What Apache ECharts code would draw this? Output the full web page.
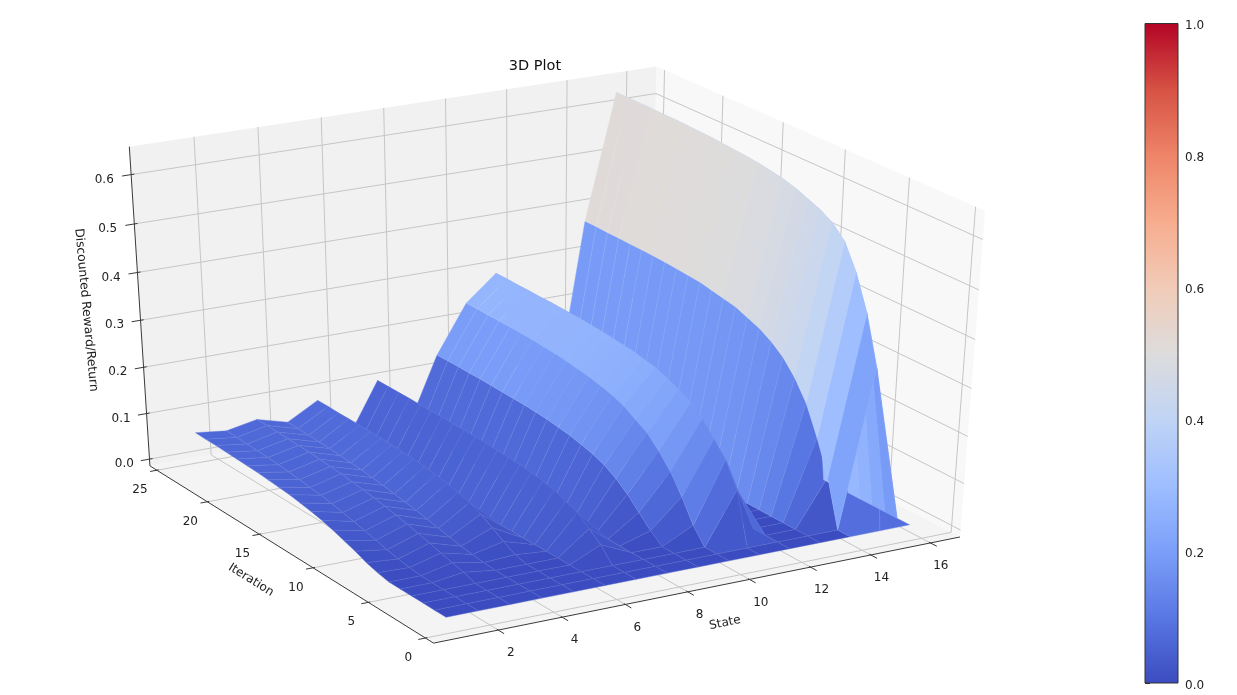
<!DOCTYPE html>
<html><head><meta charset="utf-8">
<style>html,body{margin:0;padding:0;background:#fff}#c{width:1237px;height:695px}</style>
<script src="https://cdn.jsdelivr.net/npm/echarts@6/dist/echarts.min.js"></script>
</head><body><div id="c"></div>
<script>
const states = [1,2,3,4,5,6,7,8,9,10,11,12,13,14,15,16];
const iterations = [1,2,3,4,5,6,7,8,9,10,11,12,13,14,15,16,17,18,19,20,21,22,23,24];
const state01 = [0,0,0,0,0,0,.005,.012,.022,.03,.038,.045,.05,.054,.058,.06,.062,.064,.065,.066,.067,.068,.068,.069];
const state02 = [0,0,0,0,0,0,.003,.007,.012,.018,.024,.03,.035,.04,.044,.047,.05,.053,.055,.057,.058,.059,.06,.061];
const state03 = [0,0,0,0,.009,.015,.021,.028,.034,.04,.045,.05,.054,.058,.061,.064,.066,.068,.07,.071,.072,.073,.074,.074];
const state04 = [0,0,0,0,0,.002,.005,.008,.013,.018,.023,.028,.032,.036,.04,.043,.046,.048,.05,.052,.053,.054,.055,.056];
const state05 = [0,0,0,0,0,.006,.02,.035,.05,.06,.068,.074,.079,.082,.085,.087,.088,.089,.09,.09,.091,.091,.092,.092];
const state06 = [0,0,0,0,0,0,0,0,0,0,0,0,0,0,0,0,0,0,0,0,0,0,0,0];
const state07 = [0,0,0,.03,.05,.07,.08,.09,.095,.1,.103,.105,.107,.108,.109,.11,.11,.111,.111,.111,.112,.112,.112,.112];
const state08 = [0,0,0,0,0,0,0,0,0,0,0,0,0,0,0,0,0,0,0,0,0,0,0,0];
const state09 = [0,0,0,0,.02,.045,.07,.09,.105,.115,.122,.128,.132,.136,.138,.14,.141,.142,.143,.144,.144,.145,.145,.145];
const state10 = [0,0,0,.033,.08,.12,.15,.175,.19,.205,.215,.222,.228,.232,.236,.239,.241,.243,.244,.245,.246,.246,.247,.247];
const state11 = [0,0,.11,.16,.19,.22,.24,.255,.265,.275,.28,.285,.288,.291,.293,.295,.296,.297,.298,.298,.299,.299,.3,.3];
const state12 = [0,0,0,0,0,0,0,0,0,0,0,0,0,0,0,0,0,0,0,0,0,0,0,0];
const state13 = [0,0,0,0,0,0,0,0,0,0,0,0,0,0,0,0,0,0,0,0,0,0,0,0];
const state14 = [0,0,.1,.17,.23,.27,.3,.32,.335,.345,.355,.36,.365,.37,.372,.374,.376,.377,.378,.378,.379,.379,.38,.38];
const state15 = [0,.33,.43,.5,.55,.575,.59,.6,.61,.617,.622,.626,.629,.631,.633,.635,.636,.637,.638,.638,.639,.639,.639,.639];
const state16 = [0,0,0,0,0,0,0,0,0,0,0,0,0,0,0,0,0,0,0,0,0,0,0,0];
const surface = [state01,state02,state03,state04,state05,state06,state07,state08,state09,state10,state11,state12,state13,state14,state15,state16];

const stateTicks = [2,4,6,8,10,12,14,16];
const iterationTicks = [0,5,10,15,20,25];
const rewardTicks = [0,0.1,0.2,0.3,0.4,0.5,0.6];
const coolwarm = ['#3b4cc0','#5977e3','#7b9ff9','#9ebeff','#c0d4f5','#dddcdc','#f2cbb7','#f7ac8e','#ee8468','#d65244','#b40426'];

const B = {x0:0, x1:17, y0:-0.7, y1:25.7, z0:-0.015, z1:0.656};
// Camera calibration: where known points of the box sit on the page.
const cameraAnchors = [
 [B.x0,B.y1,B.z1,128,147],[B.x1,B.y1,B.z1,657,67],[B.x1,B.y0,B.z1,985,210],
 [B.x0,B.y1,B.z0,150,466],[B.x0,B.y0,B.z0,433,643],[B.x1,B.y0,B.z0,963,537],
 [2,B.y1,B.z1,196,137],[16,B.y1,B.z1,625,71],[B.x1,0,B.z1,976,208],[B.x1,25,B.z1,665,70],
 [B.x0,B.y1,0.6,131,173],[B.x0,B.y1,0,149,459],
 [2,B.y0,B.z0,497,629],[8,B.y0,B.z0,687,592],[16,B.y0,B.z0,928,542],
 [B.x0,5,B.z0,370,604],[B.x0,15,B.z0,260,535],[B.x0,25,B.z0,157,470]
];
function calibrate(pts){
  const S=[17,25,0.6,1000,1000], n=11, A=[...Array(n)].map(()=>Array(n+1).fill(0));
  const add=(r,b)=>{for(let i=0;i<n;i++){for(let j=0;j<n;j++)A[i][j]+=r[i]*r[j];A[i][n]+=r[i]*b;}};
  pts.forEach(p=>{const X=p[0]/S[0],Y=p[1]/S[1],Z=p[2]/S[2],u=p[3]/S[3],v=p[4]/S[4];
    add([X,Y,Z,1,0,0,0,0,-u*X,-u*Y,-u*Z],u);
    add([0,0,0,0,X,Y,Z,1,-v*X,-v*Y,-v*Z],v);});
  for(let c=0;c<n;c++){let m=c;for(let r=c+1;r<n;r++)if(Math.abs(A[r][c])>Math.abs(A[m][c]))m=r;
    [A[c],A[m]]=[A[m],A[c]];
    for(let r=0;r<n;r++)if(r!==c){const f=A[r][c]/A[c][c];for(let k=c;k<=n;k++)A[r][k]-=f*A[c][k];}}
  const h=A.map((row,i)=>row[n]/row[i]);
  return (x,y,z)=>{const X=x/S[0],Y=y/S[1],Z=z/S[2],w=h[8]*X+h[9]*Y+h[10]*Z+1;
    return {u:S[3]*(h[0]*X+h[1]*Y+h[2]*Z+h[3])/w, v:S[4]*(h[4]*X+h[5]*Y+h[6]*Z+h[7])/w, w};};
}
const project = calibrate(cameraAnchors);
const pt=(x,y,z)=>{const p=project(x,y,z);return [p.u,p.v];};

function hex(c){return [1,3,5].map(i=>parseInt(c.substr(i,2),16));}
function rgbAt(t){t=Math.max(0,Math.min(1,t))*(coolwarm.length-1);const i=Math.min(Math.floor(t),coolwarm.length-2),f=t-i;
  const a=hex(coolwarm[i]),b=hex(coolwarm[i+1]);return a.map((v,k)=>v+(b[k]-v)*f);}
const css=c=>'rgb('+c.map(Math.round).join(',')+')';

// facets, far to near
const facets=[];
for(let i=0;i<states.length-1;i++)for(let j=0;j<iterations.length-1;j++){
  const xs=[states[i],states[i+1],states[i+1],states[i]], ys=[iterations[j],iterations[j],iterations[j+1],iterations[j+1]];
  const zs=[surface[i][j],surface[i+1][j],surface[i+1][j+1],surface[i][j+1]];
  const avg=zs.reduce((a,b)=>a+b,0)/4;
  const depth=[0,1,2,3].reduce((a,k)=>a+project(xs[k],ys[k],zs[k]).w,0);
  facets.push({value:[i,j,avg],depth});
}
facets.sort((a,b)=>b.depth-a.depth);

const lines=[]; // [[x,y,z],[x,y,z],color,width]
const GRID='#c6c6c6', AX='#3a3a3a';
stateTicks.forEach(s=>{lines.push([[s,B.y1,B.z1],[s,B.y1,B.z0],GRID,1],[[s,B.y1,B.z0],[s,B.y0,B.z0],GRID,1]);});
iterationTicks.forEach(t=>{lines.push([[B.x1,t,B.z1],[B.x1,t,B.z0],GRID,1],[[B.x1,t,B.z0],[B.x0,t,B.z0],GRID,1]);});
rewardTicks.forEach(r=>{lines.push([[B.x0,B.y1,r],[B.x1,B.y1,r],GRID,1],[[B.x1,B.y1,r],[B.x1,B.y0,r],GRID,1]);});
lines.push([[B.x0,B.y0,B.z0],[B.x1,B.y0,B.z0],AX,1],[[B.x0,B.y0,B.z0],[B.x0,B.y1,B.z0],AX,1],[[B.x0,B.y1,B.z0],[B.x0,B.y1,B.z1],AX,1]);
stateTicks.forEach(s=>lines.push([[s,B.y0+0.12,B.z0],[s,B.y0-0.5,B.z0],AX,1]));
iterationTicks.forEach(t=>lines.push([[B.x0+0.06,t,B.z0],[B.x0-0.22,t,B.z0],AX,1]));
rewardTicks.forEach(r=>lines.push([[B.x0+0.1,B.y1,r],[B.x0-0.28,B.y1,r],AX,1]));

const panes=[
 [[[B.x0,B.y1,B.z0],[B.x1,B.y1,B.z0],[B.x1,B.y1,B.z1],[B.x0,B.y1,B.z1]],'#f1f1f1'],
 [[[B.x1,B.y0,B.z0],[B.x1,B.y1,B.z0],[B.x1,B.y1,B.z1],[B.x1,B.y0,B.z1]],'#f8f8f8'],
 [[[B.x0,B.y0,B.z0],[B.x1,B.y0,B.z0],[B.x1,B.y1,B.z0],[B.x0,B.y1,B.z0]],'#f4f4f4']
];

const FONT='"DejaVu Sans"';
const labels=[];
stateTicks.forEach(s=>{const p=pt(s,B.y0,B.z0);labels.push([String(s),p[0]+13-s/6,p[1]+23,0,12]);});
iterationTicks.forEach(t=>{const p=pt(B.x0,t,B.z0);labels.push([String(t),p[0]-17,p[1]+20,0,12]);});
rewardTicks.forEach(r=>{const p=pt(B.x0,B.y1,r);labels.push([r.toFixed(1),p[0]-26+(0.3-r)*3,p[1]+5,0,12]);});
labels.push(['State',725,623,0.2,12],['Iteration',251,580,-0.56,12],['Discounted Reward/Return',86,310,-1.478,12.3]);

const barStops=coolwarm.map((c,i)=>({offset:i/(coolwarm.length-1),color:c}));

const chart=echarts.init(document.getElementById('c'),null,{renderer:'canvas'});
chart.setOption({
 animation:false,
 backgroundColor:'#fff',
 title:{text:'3D Plot',left:530,top:54,textAlign:'center',textStyle:{fontFamily:FONT,fontSize:14.5,fontWeight:'normal',color:'#111'}},
 grid:[{left:0,top:0,width:1237,height:695,show:false},{left:1145,top:23.5,width:33,height:659.5,show:false}],
 xAxis:[{type:'value',gridIndex:0,min:0,max:1237,show:false},{type:'value',gridIndex:1,min:0,max:1,show:false}],
 yAxis:[{type:'value',gridIndex:0,min:0,max:695,inverse:true,show:false},
  {type:'value',gridIndex:1,min:0,max:1,interval:0.2,position:'right',
   axisLine:{show:false},splitLine:{show:false},
   axisTick:{show:true,length:5,lineStyle:{color:'#333',width:1}},
   axisLabel:{margin:7,formatter:v=>'{a|'+v.toFixed(1)+'}',
     rich:{a:{fontFamily:FONT,fontSize:12,color:'#222',padding:[5,0,0,0]}}}}],
 series:[
  {type:'custom',name:'panes',xAxisIndex:0,yAxisIndex:0,clip:false,silent:true,z:1,data:panes.map((_,i)=>[i,0]),
   renderItem:(p,api)=>{const q=panes[api.value(0)];return {type:'polygon',shape:{points:q[0].map(c=>api.coord(pt(c[0],c[1],c[2])))},style:{fill:q[1]}};}},
  {type:'custom',name:'axes',xAxisIndex:0,yAxisIndex:0,clip:false,silent:true,z:2,data:lines.map((_,i)=>[i,0]),
   renderItem:(p,api)=>{const l=lines[api.value(0)],a=api.coord(pt(...l[0])),b=api.coord(pt(...l[1]));
     return {type:'line',shape:{x1:a[0],y1:a[1],x2:b[0],y2:b[1]},style:{stroke:l[2],lineWidth:l[3]}};}},
  {type:'custom',name:'surface',xAxisIndex:0,yAxisIndex:0,clip:false,silent:true,z:3,data:facets.map(f=>f.value),
   renderItem:(p,api)=>{const i=api.value(0),j=api.value(1),avg=api.value(2);
     const corners=[[i,j],[i+1,j],[i+1,j+1],[i,j+1]].map(c=>api.coord(pt(states[c[0]],iterations[c[1]],surface[c[0]][c[1]])));
     const c=rgbAt(avg), edge=c.map(v=>v+(255-v)*0.14);
     return {type:'polygon',shape:{points:corners},style:{fill:css(c),stroke:css(edge),lineWidth:0.45}};}},
  {type:'custom',name:'labels',xAxisIndex:0,yAxisIndex:0,clip:false,silent:true,z:4,data:labels.map((_,i)=>[i,0]),
   renderItem:(p,api)=>{const l=labels[api.value(0)],c=api.coord([l[1],l[2]]);
     return {type:'text',x:c[0],y:c[1],rotation:l[3],style:{text:l[0],x:0,y:0,align:'center',verticalAlign:'middle',fontFamily:FONT,fontSize:l[4],fill:'#222'}};}},
  {type:'custom',name:'colorbar',xAxisIndex:1,yAxisIndex:1,clip:false,silent:true,z:3,data:[[0,0]],
   renderItem:(p,api)=>{const a=api.coord([0,1]),b=api.coord([1,0]);
     return {type:'rect',shape:{x:a[0],y:a[1],width:b[0]-a[0],height:b[1]-a[1]},
       style:{stroke:'#333',lineWidth:1,fill:new echarts.graphic.LinearGradient(0,1,0,0,barStops)}};}}
 ]
});
</script></body></html>
